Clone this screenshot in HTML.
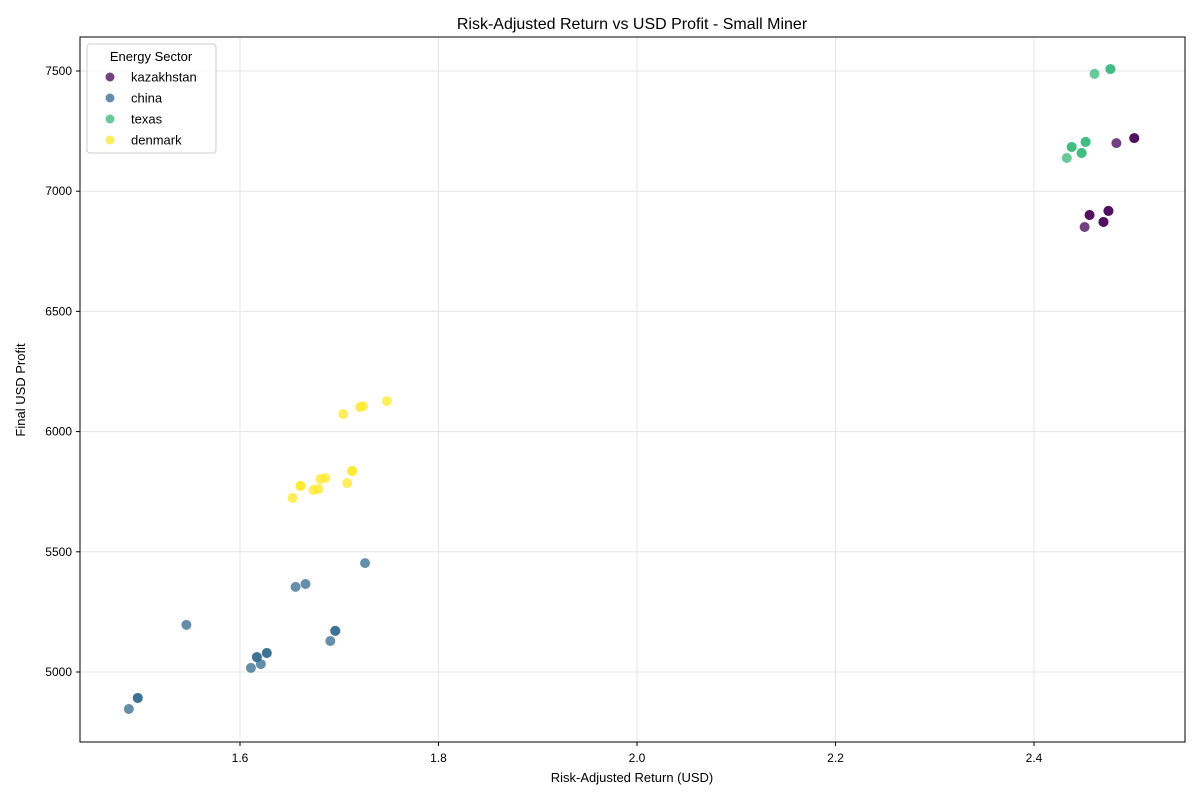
<!DOCTYPE html>
<html><head><meta charset="utf-8"><style>
body{margin:0;background:#fff;font-family:"Liberation Sans","DejaVu Sans",sans-serif}
</style></head><body>
<svg id="chart" width="1200" height="800" xmlns="http://www.w3.org/2000/svg">
<rect width="1200" height="800" fill="#fff"/>
<text x="632" y="29" font-size="16" text-anchor="middle">Risk-Adjusted Return vs USD Profit - Small Miner</text>
<g id="grid"></g><g id="pts"></g><g id="axes"></g>
<rect x="80" y="37" width="1105" height="705" fill="none" stroke="#000" stroke-width="1"/>
<text x="632" y="782" font-size="13" text-anchor="middle">Risk-Adjusted Return (USD)</text>
<text x="25" y="390" font-size="13" text-anchor="middle" transform="rotate(-90 25 390)">Final USD Profit</text>
<g id="legend">
<rect x="87" y="44" width="129" height="109" rx="3" fill="#fff" fill-opacity="0.8" stroke="#ccc"/>
<text x="151" y="61" font-size="13" text-anchor="middle">Energy Sector</text>
</g>
</svg>
<script>
const seriesNames=["kazakhstan","china","texas","denmark"];
const colors=["#440154","#31688e","#35b779","#fde725"];
const kzX=[2.501,2.501,2.483,2.456,2.456,2.475,2.475,2.470,2.470,2.451];
const kzY=[7221,7221,7200,6901,6901,6918,6918,6872,6872,6851];
const cnX=[1.726,1.666,1.656,1.546,1.696,1.696,1.691,1.627,1.627,1.617,1.617,1.621,1.611,1.497,1.497,1.488];
const cnY=[5453,5366,5354,5196,5171,5171,5129,5079,5079,5062,5062,5033,5017,4892,4892,4846];
const txX=[2.477,2.477,2.461,2.452,2.452,2.438,2.438,2.448,2.448,2.433];
const txY=[7508,7508,7488,7205,7205,7184,7184,7159,7159,7138];
const dkX=[1.748,1.724,1.721,1.704,1.713,1.713,1.686,1.681,1.661,1.661,1.679,1.674,1.708,1.653];
const dkY=[6127,6106,6102,6073,5836,5836,5807,5803,5774,5774,5761,5757,5786,5724];
const xTicks=[1.6,1.8,2.0,2.2,2.4];
const yTicks=[5000,5500,6000,6500,7000,7500];
const NS="http://www.w3.org/2000/svg";
const sx=v=>240+(v-1.6)*992.5;
const sy=v=>672-(v-5000)*0.2404;
function mk(t,a,p){const e=document.createElementNS(NS,t);for(const k in a)e.setAttribute(k,a[k]);p.appendChild(e);return e;}
const grid=document.getElementById('grid'),axes=document.getElementById('axes'),pts=document.getElementById('pts');
xTicks.forEach(t=>{const x=sx(t);
const g=mk('line',{x1:x,x2:x,y1:37,y2:742,stroke:'#e5e5e5'},grid);


mk('line',{x1:x,x2:x,y1:742,y2:746,stroke:'#000'},axes);
const l=mk('text',{x:x,y:762,'font-size':12,'text-anchor':'middle'},axes);l.textContent=t.toFixed(1);

});
yTicks.forEach(t=>{const y=sy(t);
const g=mk('line',{x1:80,x2:1185,y1:y,y2:y,stroke:'#e5e5e5'},grid);


mk('line',{x1:76,x2:80,y1:y,y2:y,stroke:'#000'},axes);
const l=mk('text',{x:72,y:y+4,'font-size':12,'text-anchor':'end'},axes);l.textContent=t;

});
const sets=[[kzX,kzY],[cnX,cnY],[txX,txY],[dkX,dkY]];
sets.forEach((s,i)=>{s[0].forEach((xv,j)=>{
const c=mk('circle',{cx:sx(xv),cy:sy(s[1][j]),r:5,fill:colors[i],'fill-opacity':0.75},pts);

});});
const lg=document.getElementById('legend');
seriesNames.forEach((n,i)=>{const y=77+i*21;
const c=mk('circle',{cx:110,cy:y,r:4.5,fill:colors[i],'fill-opacity':0.75},lg);


const t=mk('text',{x:131,y:y+4.5,'font-size':13},lg);t.textContent=n;

});
</script>
</body></html>
